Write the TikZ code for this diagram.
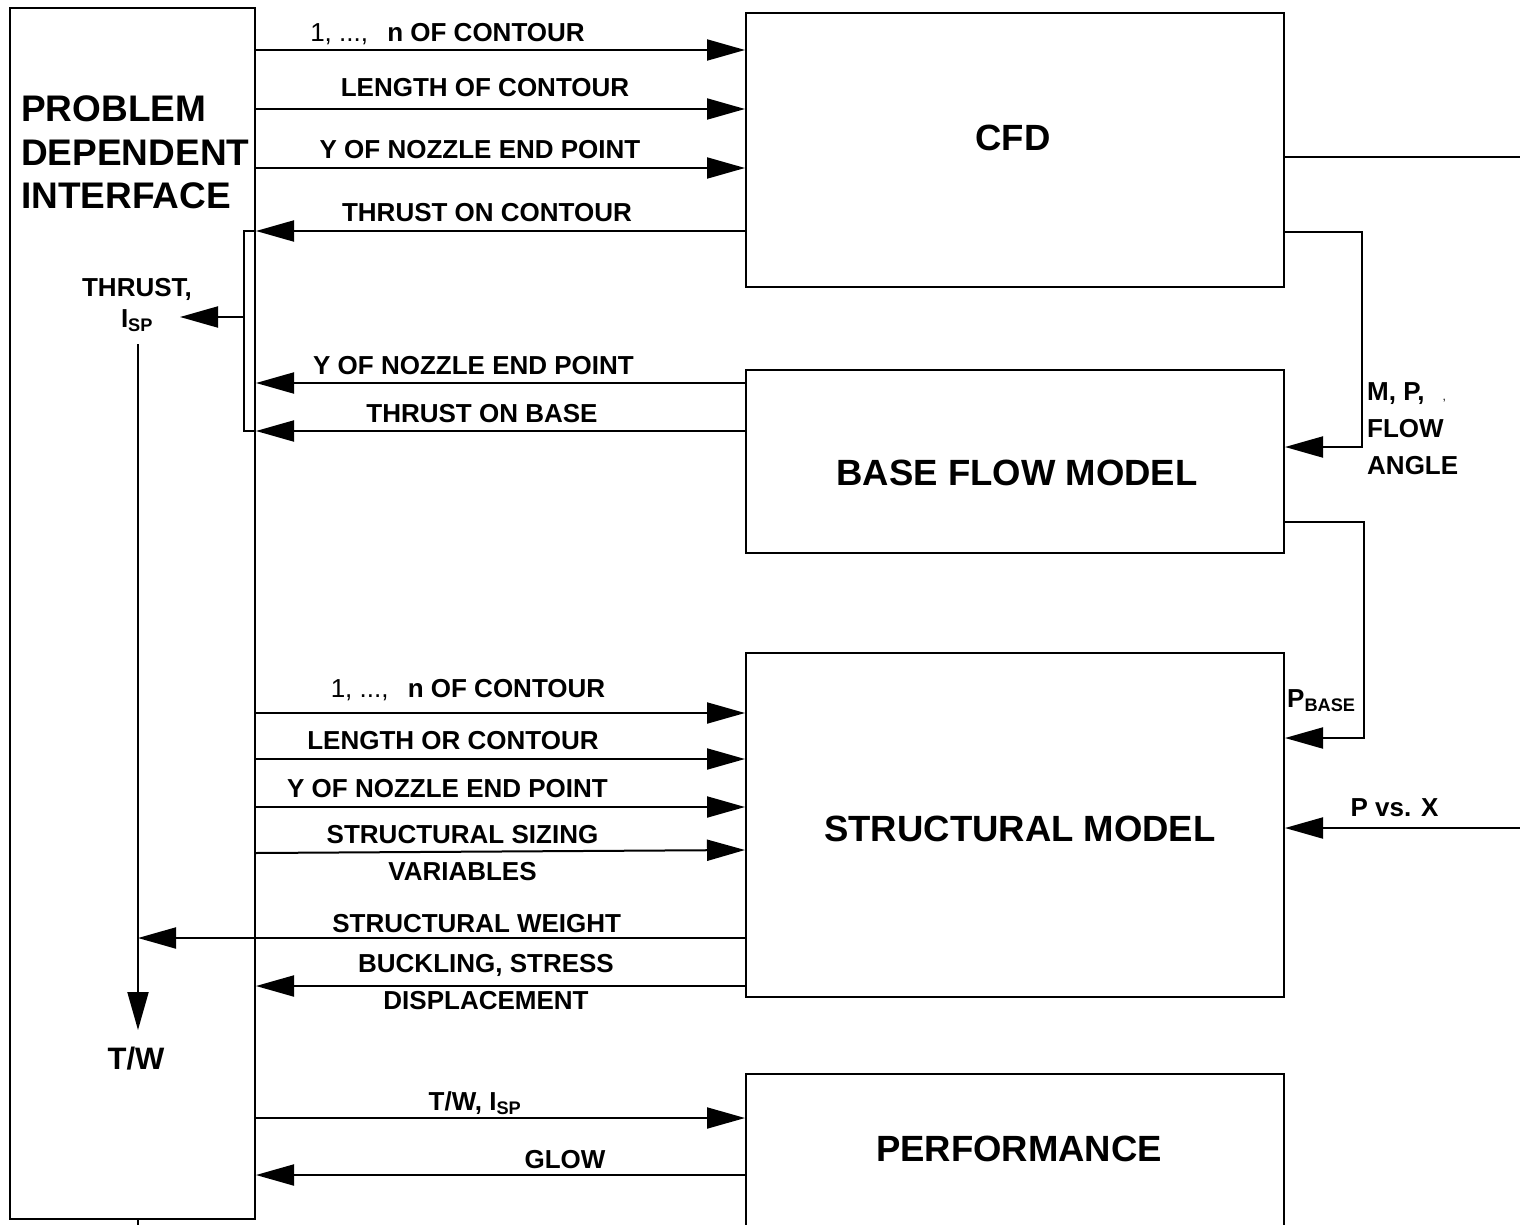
\documentclass[tikz,border=0pt]{standalone}
\usepackage{fontspec}
\setmainfont{Liberation Sans}
\usetikzlibrary{arrows.meta}
\newcommand{\ncontour}{{\mdseries 1, ..., }\hspace{12pt}n OF CONTOUR}

\begin{document}
\begin{tikzpicture}[x=1pt,y=-1pt,
  line/.style={line width=2pt},
  flowarrow/.style={line width=2pt,-{Triangle[length=38pt,width=21pt]}},
  box/.style={draw,line width=2pt,inner sep=0pt,minimum width=538},
  lbl/.style={anchor=base,inner sep=0pt,align=center,font=\bfseries\fontsize{26}{37}\selectfont},
  ttl/.style={anchor=base,inner sep=0pt,font=\bfseries\fontsize{36.5}{40}\selectfont}]
\path[use as bounding box,clip](0,0)rectangle(1520,1225);
\fill[white](0,0)rectangle(1520,1225);

% boxes
\node[box,minimum width=245,minimum height=1211](pdi)at(132.5,613.5){};
\node[box,minimum height=274](cfd)at(1015,150){};
\node[box,minimum height=183](bfm)at(1015,461.5){};
\node[box,minimum height=344](sm)at(1015,825){};
\node[box,minimum height=166](perf)at(1015,1157){};
\node[anchor=north west,inner sep=0pt,align=left,font=\bfseries\fontsize{37}{43.5}\selectfont](pditxt)at(21,95.5){PROBLEM\\DEPENDENT\\INTERFACE};
\node[ttl](cfdtxt)at(1013,151){CFD};
\node[ttl](bfmtxt)at(1017,485){BASE FLOW MODEL};
\node[ttl](smtxt)at(1020,841){STRUCTURAL MODEL};
\node[ttl](perftxt)at(1019,1161){PERFORMANCE};

% interface <-> CFD
\foreach \y in {50,109,168}
  \draw[flowarrow](pdi.east|-0,\y)--(cfd.west|-0,\y);
\draw[flowarrow](cfd.west|-0,231)--(pdi.east|-0,231);
\node[lbl](c1)at(447.5,42){\ncontour};
\node[lbl](c2)at(485,97){LENGTH OF CONTOUR};
\node[lbl](c3)at(480,159){Y OF NOZZLE END POINT};
\node[lbl](c4)at(487,222){THRUST ON CONTOUR};

% interface <- base flow
\draw[flowarrow](bfm.west|-0,383)--(pdi.east|-0,383);
\draw[flowarrow](bfm.west|-0,431)--(pdi.east|-0,431);
\node[lbl](b1)at(473.5,374){Y OF NOZZLE END POINT};
\node[lbl](b2)at(482,422){THRUST ON BASE};

% thrust bracket
\coordinate(brt)at(244,231);
\coordinate(brb)at(244,431);
\coordinate(thrtip)at(180,317);
\draw[line](pdi.east|-brt)--(brt)--(brb)--(pdi.east|-brb);
\draw[flowarrow](brt|-thrtip)--(thrtip);
\node[lbl,anchor=north,font=\bfseries\fontsize{26}{31}\selectfont](thr)at(137,278.4){THRUST,\\I\textsubscript{SP}};
\coordinate(twtop)at(138,344);
\coordinate(twtip)at(138,1030);
\draw[flowarrow](twtop)--(twtip);
\node[anchor=base,inner sep=0pt,font=\bfseries\fontsize{31}{35}\selectfont](tw)at(136,1069){T/W};
\draw[line](pdi.south-|twtop)--++(0,12);

% interface <-> structural model
\foreach \y in {713,759,807}
  \draw[flowarrow](pdi.east|-0,\y)--(sm.west|-0,\y);
\draw[flowarrow](pdi.east|-0,853)--(sm.west|-0,850);
\draw[flowarrow](sm.west|-0,938)--(twtop|-0,938);
\draw[flowarrow](sm.west|-0,986)--(pdi.east|-0,986);
\node[lbl](s1)at(468,697){\ncontour};
\node[lbl](s2)at(453,749){LENGTH OR CONTOUR};
\node[lbl](s3)at(447.5,797){Y OF NOZZLE END POINT};
\node[lbl,anchor=north](s4)at(462.5,825.4){STRUCTURAL SIZING\\VARIABLES};
\node[lbl](s5)at(476.7,932){STRUCTURAL WEIGHT};
\node[lbl,anchor=north](s6)at(486,954.4){BUCKLING, STRESS\\DISPLACEMENT};

% interface <-> performance
\draw[flowarrow](pdi.east|-0,1118)--(perf.west|-0,1118);
\draw[flowarrow](perf.west|-0,1175)--(pdi.east|-0,1175);
\node[lbl](p1)at(475,1110){T/W, I\textsubscript{SP}};
\node[lbl](p2)at(565,1168){GLOW};

% right side
\coordinate(rin)at(1530,157);
\coordinate(rout)at(1530,828);
\draw[line](cfd.east|-rin)--(rin);
\draw[flowarrow](cfd.east|-0,232)-|(1362,447)--(bfm.east|-0,447);
\draw[flowarrow](bfm.east|-0,522)-|(1364,738)--(sm.east|-0,738);
\draw[flowarrow](rout)--(sm.east|-rout);
\node[lbl,anchor=north west,align=left](r1)at(1367,382.4){M, P,\hspace{18pt}{\mdseries\fontsize{12}{12}\selectfont ,}\\FLOW\\ANGLE};
\node[lbl,anchor=base west](r2)at(1287,707){P\textsubscript{BASE}};
\node[lbl](r3)at(1394.5,816){P vs. X};
\end{tikzpicture}
\end{document}
